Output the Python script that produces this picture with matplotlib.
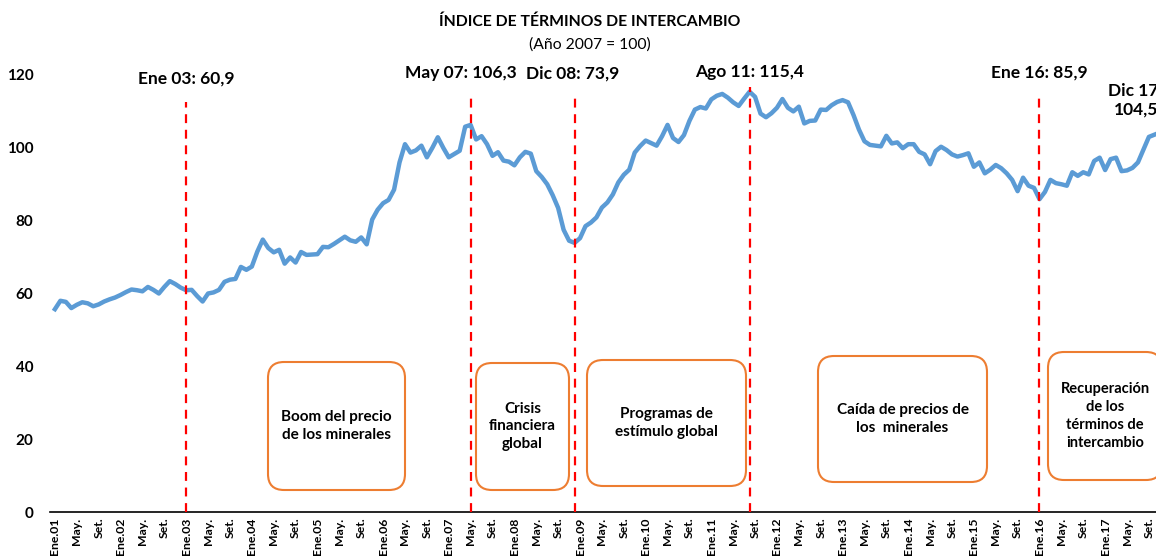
import matplotlib
matplotlib.use("Agg")
import matplotlib.pyplot as plt
from matplotlib.patches import FancyBboxPatch
from matplotlib.transforms import IdentityTransform

# monthly index, Ene 2001 - Dic 2017 (one row per year)
tti = [
    55.7, 58.0, 57.7, 56.0, 56.9, 57.6, 57.3, 56.5, 57.0, 57.8, 58.4, 58.9,
    59.6, 60.4, 61.1, 60.9, 60.6, 61.8, 61.0, 60.0, 61.8, 63.4, 62.6, 61.6,
    60.9, 61.0, 59.3, 57.8, 60.0, 60.3, 61.0, 63.2, 63.8, 64.0, 67.3, 66.5,
    67.4, 71.5, 74.8, 72.5, 71.3, 72.0, 68.2, 69.9, 68.5, 71.4, 70.6, 70.7,
    70.8, 72.8, 72.7, 73.6, 74.6, 75.6, 74.6, 74.2, 75.4, 73.5, 80.3, 83.0,
    84.8, 85.7, 88.5, 96.0, 101.0, 98.7, 99.3, 100.6, 97.4, 100.0, 102.9, 100.0,
    97.4, 98.3, 99.2, 105.8, 106.3, 102.3, 103.2, 101.0, 97.8, 98.8, 96.5, 96.2,
    95.2, 97.4, 98.9, 98.4, 93.6, 92.0, 90.0, 87.0, 83.5, 77.5, 74.5, 73.9,
    75.2, 78.5, 79.5, 80.9, 83.6, 85.0, 87.2, 90.5, 92.6, 94.0, 98.7, 100.5,
    102.0, 101.3, 100.6, 103.2, 106.3, 102.7, 101.6, 103.5, 107.4, 110.5, 111.2, 110.8,
    113.3, 114.3, 114.8, 113.8, 112.5, 111.5, 113.5, 115.4, 114.0, 109.4, 108.4, 109.5,
    111.0, 113.4, 111.0, 110.0, 111.3, 106.7, 107.4, 107.5, 110.5, 110.4, 111.7, 112.6,
    113.1, 112.5, 109.0, 105.0, 101.8, 100.8, 100.6, 100.4, 103.3, 101.2, 101.5, 99.9,
    101.0, 101.0, 98.9, 98.2, 95.5, 99.1, 100.3, 99.4, 98.2, 97.6, 98.0, 98.5,
    94.8, 96.0, 93.0, 94.0, 95.3, 94.4, 93.0, 91.2, 88.1, 91.8, 89.6, 89.0,
    85.9, 87.9, 91.2, 90.3, 90.0, 89.6, 93.3, 92.3, 93.3, 92.7, 96.4, 97.3,
    93.9, 96.9, 97.3, 93.6, 93.8, 94.5, 96.0, 99.5, 103.0, 103.6, 104.2, 104.5,
]
years = ["01", "02", "03", "04", "05", "06", "07", "08", "09",
         "10", "11", "12", "13", "14", "15", "16", "17"]
tick_labels = []
for yy in years:
    tick_labels += ["Ene." + yy, "May.", "Set."]

# events: month index, label, top of the dashed line, label shift (px)
events = [(24, "Ene 03: 60,9", 112.6, 0), (76, "May 07: 106,3", 114.0, -10),
          (95, "Dic 08: 73,9", 114.0, -2), (127, "Ago 11: 115,4", 116.7, 0),
          (180, "Ene 16: 85,9", 114.2, 0)]

periods = [
    ("Boom del precio\nde los minerales", (268, 362, 405, 490), 11),
    ("Crisis\nfinanciera\nglobal", (476, 363, 569, 490), 11),
    ("Programas de\nestímulo global", (587, 360, 746, 486), 11),
    ("Caída de precios de\nlos  minerales", (818, 356, 987, 482), 11),
    ("Recuperación\nde los\ntérminos de\nintercambio", (1048, 352, 1162, 480), 10.5),
]

plt.rcParams['font.family'] = ['Lato', 'DejaVu Sans']

W, H = 1156, 560
fig = plt.figure(figsize=(W / 100, H / 100), dpi=100)
ax = fig.add_axes([50 / W, (H - 512) / H, 1106 / W, 437 / H])

months = list(range(len(tti)))
ax.plot(months, tti, color="#5B9BD5", lw=3.2, solid_joinstyle="round", zorder=3)

ax.set_xlim(-0.9, 201.3)
ax.set_ylim(0, 120)
ax.set_yticks(range(0, 121, 20))
ax.set_yticklabels([str(v) for v in range(0, 121, 20)], fontweight="bold", fontsize=11)
ax.set_xticks(range(0, len(tick_labels) * 4, 4))
ax.set_xticklabels(tick_labels, rotation=90, fontweight="bold", fontsize=8.8)
ax.tick_params(axis="both", length=0)
ax.tick_params(axis="y", pad=12)
ax.tick_params(axis="x", pad=4)
for s in ["top", "right", "left"]:
    ax.spines[s].set_visible(False)
ax.spines["bottom"].set_color("black")
ax.spines["bottom"].set_linewidth(1.2)

for m, lab, top, dx in events:
    ax.vlines(m, 0, top, colors="red", linestyles=(0, (4, 3)), lw=1.6, zorder=4)
    ax.annotate(lab, (m, top + 4 if top > 115 else top + 6.5), xytext=(dx, 0),
                textcoords="offset pixels", ha="center", va="center",
                fontsize=12.5, fontweight="bold", annotation_clip=False)
ax.text(1158, 560 - 100, "Dic 17\n104,5", transform=IdentityTransform(),
        ha="right", va="center", fontsize=12.5, fontweight="bold", linespacing=1.2)

for text, (x0, y0, x1, y1), fs in periods:
    box = FancyBboxPatch((x0, H - y1), x1 - x0, y1 - y0,
                         boxstyle="round,pad=0,rounding_size=16",
                         transform=IdentityTransform(), facecolor="white",
                         edgecolor="#ED7D31", lw=1.5, zorder=5)
    fig.patches.append(box)
    fig.text((x0 + x1) / 2 / W, 1 - (y0 + y1) / 2 / H, text, ha="center", va="center",
             fontsize=fs, fontweight="bold", linespacing=1.35, zorder=6)

fig.text(590 / W, 1 - 22 / H, "ÍNDICE DE TÉRMINOS DE INTERCAMBIO",
         ha="center", va="center", fontsize=11.3, fontweight="bold")
fig.text(590 / W, 1 - 45 / H, "(Año 2007 = 100)", ha="center", va="center", fontsize=11.3)

fig.savefig("out.png", dpi=100)
